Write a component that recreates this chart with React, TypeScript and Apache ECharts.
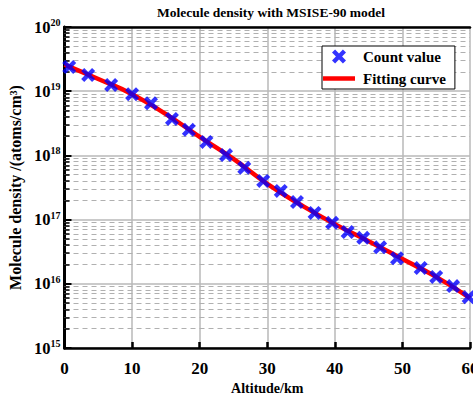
import React, { useEffect, useRef } from "react";
import * as echarts from "echarts";

const altitude = [0.7, 3.5, 6.9, 10.0, 12.8, 15.9, 18.4, 21.0, 23.9, 26.6, 29.4, 32.0, 34.4, 37.0, 39.6, 41.9, 44.2, 46.7, 49.2, 52.7, 55.0, 57.5, 59.8];
const density = [2.38e19, 1.79e19, 1.25e19, 9.0e18, 6.5e18, 3.7e18, 2.5e18, 1.62e18, 1.01e18, 6.4e17, 4.0e17, 2.8e17, 1.88e17, 1.27e17, 8.9e16, 6.4e16, 5.2e16, 3.7e16, 2.5e16, 1.76e16, 1.28e16, 9.2e15, 6.2e15];

const fitAltitude = [0, 5, 10, 15, 20, 25, 30, 35, 40, 45, 50, 55, 60];
const fitDensity = [2.6e19, 1.55e19, 9.0e18, 4.4e18, 1.95e18, 8.8e17, 3.6e17, 1.69e17, 8.5e16, 4.6e16, 2.43e16, 1.28e16, 6.0e15];

const decadeExponents = [15, 16, 17, 18, 19];
const minorMultipliers = [2, 3, 4, 5, 6, 7, 8, 9];

const FONT = "'Liberation Serif', 'Times New Roman', serif";
const X_SYMBOL = "path://M0,2.2 L2.2,0 L5,2.8 L7.8,0 L10,2.2 L7.2,5 L10,7.8 L7.8,10 L5,7.2 L2.2,10 L0,7.8 L2.8,5 Z";
const LINE_ICON = "path://M0,0 L32,0 L32,4.5 L0,4.5 Z";

export default function App() {
  const ref = useRef<HTMLDivElement>(null);
  useEffect(() => {
    if (!ref.current) return;
    const chart = echarts.init(ref.current, null, { renderer: "svg" });
    const minorValues: number[] = [];
    decadeExponents.forEach((e) => minorMultipliers.forEach((m) => minorValues.push(m * Math.pow(10, e))));
    const option: any = {
      animation: false,
      backgroundColor: "#fff",
      title: {
        text: "Molecule density with MSISE-90 model",
        left: 152,
        top: 0,
        textStyle: { fontFamily: FONT, fontWeight: "bold", fontSize: 13.5, color: "#000" },
      },
      legend: {
        orient: "vertical",
        left: 322,
        top: 46,
        padding: [3, 9, 3, 1],
        itemGap: 7,
        itemWidth: 32,
        itemHeight: 14,
        backgroundColor: "#fff",
        borderColor: "#000",
        borderWidth: 1,
        borderRadius: 0,
        textStyle: { fontFamily: FONT, fontWeight: "bold", fontSize: 15, color: "#000", padding: [0, 0, 0, 3] },
        data: [
          { name: "Count value" },
          { name: "Fitting curve", icon: LINE_ICON },
        ],
      },
      grid: { left: 64.5, right: 3, top: 27, bottom: 53, outerBoundsMode: "none", containLabel: false },
      xAxis: [
        {
          type: "value",
          min: 0,
          max: 60,
          interval: 10,
          name: "Altitude/km",
          nameLocation: "middle",
          nameGap: 32,
          nameTextStyle: { fontFamily: FONT, fontWeight: "bold", fontSize: 14, color: "#000" },
          axisLine: { show: true, lineStyle: { color: "#000", width: 2.5 } },
          axisTick: { show: true, inside: true, length: 6, lineStyle: { color: "#000", width: 2.5 } },
          axisLabel: { fontFamily: FONT, fontWeight: "bold", fontSize: 17, color: "#000", margin: 12 },
          splitLine: { show: true, lineStyle: { color: "#b8b8b8", width: 1.5 } },
        },
        {
          type: "value",
          position: "top",
          min: 0,
          max: 60,
          interval: 10,
          axisLine: { show: true, lineStyle: { color: "#000", width: 2.5 } },
          axisTick: { show: false },
          axisLabel: { show: false },
          splitLine: { show: false },
        },
      ],
      yAxis: [
        {
          type: "log",
          logBase: 10,
          min: 1e15,
          max: 1e20,
          name: "Molecule density /(atoms/cm³)",
          nameLocation: "middle",
          nameGap: 40,
          nameTextStyle: { fontFamily: FONT, fontWeight: "bold", fontSize: 16, color: "#000" },
          axisLine: { show: true, lineStyle: { color: "#000", width: 3 } },
          axisTick: { show: true, inside: true, length: 7, lineStyle: { color: "#000", width: 2 } },
          axisLabel: {
            margin: 4,
            formatter: (v: number) => `{a|10}{b|${Math.round(Math.log10(v))}}`,
            rich: {
              a: { fontFamily: FONT, fontWeight: "bold", fontSize: 16.5, color: "#000" },
              b: { fontFamily: FONT, fontWeight: "bold", fontSize: 10, color: "#000", padding: [0, 0, 9, 0] },
            },
          },
          splitLine: { show: true, lineStyle: { color: "#b8b8b8", width: 1.5 } },
        },
        {
          type: "log",
          logBase: 10,
          min: 1e15,
          max: 1e20,
          position: "right",
          axisLine: { show: true, lineStyle: { color: "#000", width: 2.5 } },
          axisTick: { show: false },
          axisLabel: { show: false },
          splitLine: { show: false },
        },
      ],
      series: [
        {
          name: "Count value",
          type: "scatter",
          z: 5,
          symbol: X_SYMBOL,
          symbolSize: 14,
          itemStyle: { color: "#0000ff" },
          data: altitude.map((a, i) => [a, density[i]]),
        },
        {
          name: "Fitting curve",
          type: "line",
          z: 4,
          smooth: true,
          symbol: "none",
          showSymbol: false,
          lineStyle: { color: "#ff0000", width: 4.5 },
          itemStyle: { color: "#ff0000" },
          data: fitAltitude.map((a, i) => [a, fitDensity[i]]),
          markLine: {
            silent: true,
            symbol: "none",
            label: { show: false },
            z: 1,
            data: [
              ...minorValues.map((v) => ({
                yAxis: v,
                lineStyle: { color: "#b0b0b0", width: 1, type: [5, 4] },
              })),
              ...minorValues.map((v) => [
                { coord: [0, v], lineStyle: { color: "#000", width: 1.5, type: "solid" } },
                { coord: [0.75, v] },
              ]),
            ],
          },
        },
      ],
    };
    chart.setOption(option);
    return () => chart.dispose();
  }, []);
  return <div ref={ref} style={{ position: "fixed", left: 0, top: 0, width: 473, height: 401 }} />;
}
